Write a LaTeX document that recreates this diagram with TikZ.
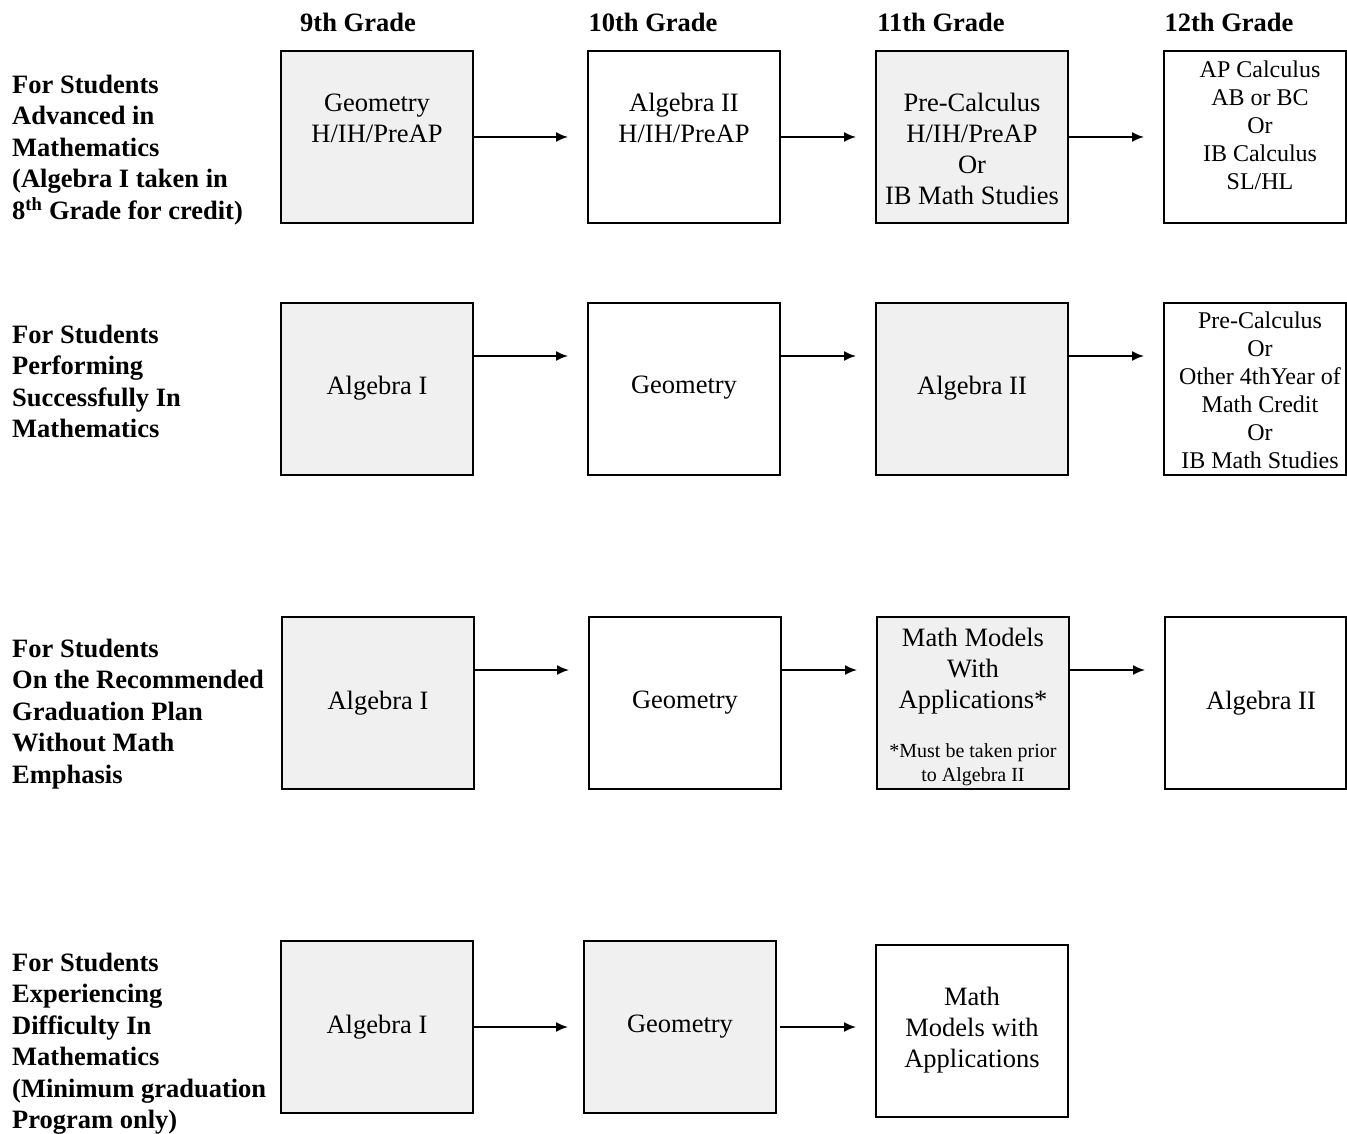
\documentclass[tikz,border=0pt]{standalone}
\usepackage{fontspec}
\setmainfont{Liberation Serif}
\usetikzlibrary{arrows.meta}
\definecolor{boxgray}{RGB}{240,240,240}
\begin{document}
\begin{tikzpicture}[x=1pt,y=-1pt,
  box/.style={draw=black, line width=1.8pt, minimum width=192pt, minimum height=172pt, inner sep=0pt, outer sep=0pt, anchor=north west},
  gbox/.style={box, fill=boxgray},
  txt/.style={align=center, inner sep=0pt, font=\fontsize{26.5}{31}\selectfont},
  smalltxt/.style={align=center, inner sep=0pt, font=\fontsize{24}{28}\selectfont},
  foot/.style={align=center, inner sep=0pt, font=\fontsize{20}{24}\selectfont},
  lab/.style={align=left, anchor=west, inner sep=0pt, font=\fontsize{26.5}{31.5}\selectfont\bfseries},
  head/.style={inner sep=0pt, font=\fontsize{26.5}{31}\selectfont\bfseries},
  arr/.style={-{Latex[length=12pt,width=10pt]}, line width=1.8pt, shorten >=20pt}
]
\useasboundingbox (0,0) rectangle (1347,1134);

% headers
\node[head] (h9)  at (358,22) {9th Grade};
\node[head] (h10) at (653,22) {10th Grade};
\node[head] (h11) at (941,22) {11th Grade};
\node[head] (h12) at (1229,22) {12th Grade};

% left labels
\node[lab] (l1) at (12,150) {For Students\\Advanced in\\Mathematics\\(Algebra I taken in\\8\textsuperscript{th} Grade for credit)};
\node[lab] (l2) at (12,381.5) {For Students\\Performing\\Successfully In\\Mathematics};
\node[lab] (l3) at (12,714) {For Students\\On the Recommended\\Graduation Plan\\Without Math\\Emphasis};
\node[lab] (l4) at (12,1043.5) {For Students\\Experiencing\\Difficulty In\\Mathematics\\(Minimum graduation\\Program only)};

% row 1
\node[gbox] (b11) at (281,51) {};
\node[box]  (b12) at (588,51) {};
\node[gbox] (b13) at (876,51) {};
\node[box, minimum width=182pt] (b14) at (1164,51) {};
\node[txt] (t11) at (377,118) {Geometry\\H/IH/PreAP};
\node[txt] (t12) at (684,118) {Algebra II\\H/IH/PreAP};
\node[txt] (t13) at (972,148.5) {Pre-Calculus\\H/IH/PreAP\\Or\\IB Math Studies};
\node[smalltxt] (t14) at (1260,125) {AP Calculus\\AB or BC\\Or\\IB Calculus\\SL/HL};
\draw[arr] (b11.east) -- (b12.west);
\draw[arr] (b12.east) -- (b13.west);
\draw[arr] (b13.east) -- (b14.west);

% row 2
\node[gbox] (b21) at (281,303) {};
\node[box]  (b22) at (588,303) {};
\node[gbox] (b23) at (876,303) {};
\node[box, minimum width=182pt] (b24) at (1164,303) {};
\node[txt] (t21) at (377,388) {Algebra I};
\node[txt] (t22) at (684,388) {Geometry};
\node[txt] (t23) at (972,388) {Algebra II};
\node[smalltxt] (t24) at (1260,390.5) {Pre-Calculus\\Or\\Other 4thYear of\\Math Credit\\Or\\IB Math Studies};
\draw[arr] ([yshift=33pt]b21.east) -- ([yshift=33pt]b22.west);
\draw[arr] ([yshift=33pt]b22.east) -- ([yshift=33pt]b23.west);
\draw[arr] ([yshift=33pt]b23.east) -- ([yshift=33pt]b24.west);

% row 3
\node[gbox] (b31) at (282,617) {};
\node[box]  (b32) at (589,617) {};
\node[gbox] (b33) at (877,617) {};
\node[box, minimum width=181pt] (b34) at (1165,617) {};
\node[txt] (t31) at (378,703) {Algebra I};
\node[txt] (t32) at (685,703) {Geometry};
\node[txt] (t33) at (973,671.5) {Math Models\\With\\Applications*};
\node[foot] (f33) at (973,765) {*Must be taken prior\\to Algebra II};
\node[txt] (t34) at (1261,703) {Algebra II};
\draw[arr] ([yshift=33pt]b31.east) -- ([yshift=33pt]b32.west);
\draw[arr] ([yshift=33pt]b32.east) -- ([yshift=33pt]b33.west);
\draw[arr] ([yshift=33pt]b33.east) -- ([yshift=33pt]b34.west);

% row 4
\node[gbox] (b41) at (281,941) {};
\node[gbox] (b42) at (584,941) {};
\node[box]  (b43) at (876,945) {};
\node[txt] (t41) at (377,1027) {Algebra I};
\node[txt] (t42) at (680,1027) {Geometry};
\node[txt] (t43) at (972,1030.5) {Math\\Models with\\Applications};
\draw[arr, shorten >=16pt] (b41.east) -- (b42.west);
\draw[arr, shorten <=4pt] (b42.east) -- (b42.east -| b43.west);
\end{tikzpicture}
\end{document}
